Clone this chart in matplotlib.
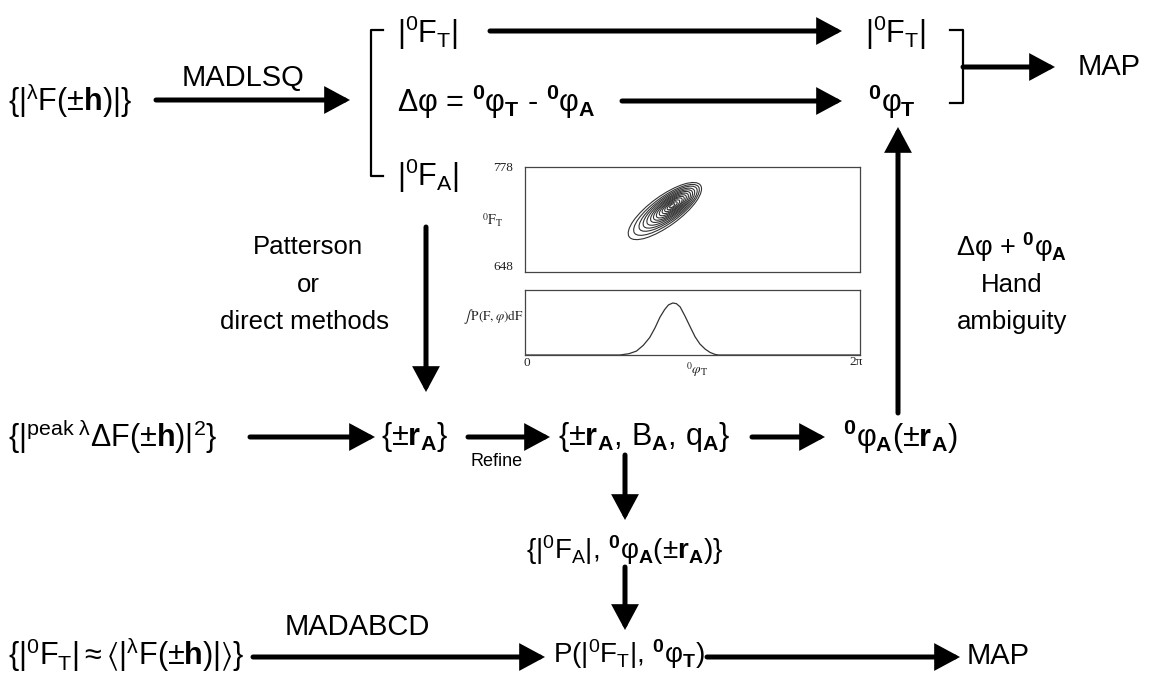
import numpy as np
import matplotlib
matplotlib.use('Agg')
import matplotlib.pyplot as plt
from matplotlib.patches import Ellipse
from matplotlib.transforms import ScaledTranslation

plt.rcParams['font.family'] = ['Liberation Sans', 'DejaVu Sans']
plt.rcParams['mathtext.fontset'] = 'custom'
plt.rcParams['mathtext.rm'] = 'Liberation Sans'
plt.rcParams['mathtext.it'] = 'Liberation Sans'
plt.rcParams['mathtext.bf'] = 'Liberation Sans:bold'
plt.rcParams['mathtext.fallback'] = 'stixsans'

W, H = 1149, 674

# inset data
phi_curve = [0.0, 1.60, 1.78, 1.95, 2.09, 2.22, 2.34, 2.44, 2.53, 2.62, 2.69, 2.77,
             2.84, 2.91, 3.00, 3.10, 3.19, 3.28, 3.38, 3.47, 3.56, 3.63, 6.283]
p_curve = [0.0, 0.0, 0.0, 0.02, 0.06, 0.15, 0.27, 0.42, 0.58, 0.70, 0.77, 0.80,
           0.79, 0.74, 0.60, 0.43, 0.28, 0.17, 0.09, 0.04, 0.01, 0.0, 0.0]
f_ticks = [648, 778]
contour_center = (2.76, 730)
contour_major = [88, 79, 70, 62, 55, 48, 42, 36, 30, 24, 18, 12, 6]
contour_minor = [30, 26, 23, 20.5, 18, 16, 14, 12, 10, 8.5, 6.5, 4.5, 2.5]
contour_shift = [-9, -7, -5, -4, -3, -2, -1.5, -1, -0.5, 0, 0, 0, 0]

fig = plt.figure(figsize=(W / 100, H / 100), dpi=100)
ax = fig.add_axes([0, 0, 1, 1])
ax.set_xlim(0, W)
ax.set_ylim(H, 0)
ax.axis('off')

BIG = 21
EQ = 22
MID = 18.5


def arrow(x0, y0, x1, y1):
    ax.annotate('', xy=(x1, y1), xytext=(x0, y0),
                arrowprops=dict(arrowstyle='-|>,head_length=0.65,head_width=0.35',
                                lw=3.6, color='black', shrinkA=0, shrinkB=0,
                                mutation_scale=20, joinstyle='miter'))


def label(x, y, s, size=EQ, ha='left', **kw):
    ax.text(x, y, s, fontsize=size, ha=ha, va='center', **kw)


# row 1
label(8, 100, r'$\{|{}^{λ}F(\pm\mathbf{h})|\}$')
label(243, 78, 'MADLSQ', size=BIG, ha='center')
arrow(156, 100, 350, 100)
ax.plot([383, 371, 371, 383], [30, 30, 176, 176], color='black', lw=1.6)
label(397, 33, r'$|{}^{0}F_{T}|$')
label(397, 102, r'Δφ = ${}^{\mathbf{0}}φ_{\mathbf{T}}$ - ${}^{\mathbf{0}}φ_{\mathbf{A}}$')
label(397, 176, r'$|{}^{0}F_{A}|$')
arrow(490, 31, 842, 31)
arrow(622, 101, 842, 101)
label(865, 33, r'$|{}^{0}F_{T}|$')
label(868, 102, r'${}^{\mathbf{0}}φ_{\mathbf{T}}$')
ax.plot([950, 963, 963, 950], [30, 30, 103, 103], color='black', lw=1.6)
arrow(963, 67, 1055, 67)
label(1078, 67, 'MAP', size=BIG)

# side notes
label(308, 247, 'Patterson', size=MID, ha='center')
label(308, 285, 'or', size=MID, ha='center')
label(305, 322, 'direct methods', size=MID, ha='center')
arrow(426, 227, 426, 392)
label(1012, 247, r'Δφ + ${}^{\mathbf{0}}φ_{\mathbf{A}}$', size=MID + 1, ha='center')
label(1012, 285, 'Hand', size=MID, ha='center')
label(1012, 322, 'ambiguity', size=MID, ha='center')
arrow(898, 413, 898, 127)

# row 2
label(8, 437, r'$\{|{}^{\mathrm{peak}\ λ}ΔF(\pm\mathbf{h})|^{2}\}$')
arrow(250, 437, 375, 437)
label(381, 437, r'$\{\pm\mathbf{r}_{\mathbf{A}}\}$')
arrow(468, 437, 550, 437)
label(497, 462, 'Refine', size=13, ha='center')
label(558, 437, r'$\{\pm\mathbf{r}_{\mathbf{A}},\,B_{\mathbf{A}},\,q_{\mathbf{A}}\}$')
arrow(752, 437, 825, 437)
label(843, 437, r'${}^{\mathbf{0}}φ_{\mathbf{A}}(\pm\mathbf{r}_{\mathbf{A}})$')
arrow(625, 455, 625, 520)
label(625, 550, r'$\{|{}^{0}F_{A}|,\,{}^{\mathbf{0}}φ_{\mathbf{A}}(\pm\mathbf{r}_{\mathbf{A}})\}$',
      size=20, ha='center')
arrow(625, 567, 625, 630)

# row 3
label(8, 654, r'$\{|{}^{0}F_{T}|\approx\langle|{}^{λ}F(\pm\mathbf{h})|\rangle\}$')
label(357, 627, 'MADABCD', size=BIG, ha='center')
arrow(253, 657, 545, 657)
label(553, 654, r'$P(|{}^{0}F_{T}|,\,{}^{\mathbf{0}}φ_{\mathbf{T}})$', size=20)
arrow(707, 657, 960, 657)
label(967, 656, 'MAP', size=BIG)

# inset: joint distribution and its marginal
frame = '#444444'
ax_top = fig.add_axes([525 / W, 1 - 272 / H, 335 / W, 105 / H])
ax_bot = fig.add_axes([525 / W, 1 - 355 / H, 335 / W, 65 / H])
for a in (ax_top, ax_bot):
    a.set_xticks([])
    a.set_yticks([])
    a.set_xlim(0, 2 * np.pi)
    for sp in a.spines.values():
        sp.set_color(frame)
        sp.set_linewidth(0.9)
ax_top.set_ylim(f_ticks[0], f_ticks[1])
ax_bot.set_ylim(0, 1)
ax_bot.plot(phi_curve, p_curve, color='#333333', lw=0.9)

ang = 36
for maj, mnr, sh in zip(contour_major, contour_minor, contour_shift):
    dx = sh * np.cos(np.radians(ang)) / 100
    dy = sh * np.sin(np.radians(ang)) / 100
    tr = fig.dpi_scale_trans + ScaledTranslation(contour_center[0], contour_center[1], ax_top.transData)
    e = Ellipse((dx, dy), maj / 100, mnr / 100, angle=ang, transform=tr,
                fill=False, edgecolor='#333333', lw=0.8)
    ax_top.add_patch(e)

serif = dict(family='Liberation Serif', color='#222222')
ax.text(513, 168, str(f_ticks[1]), fontsize=9.5, ha='right', va='center', **serif)
ax.text(513, 267, str(f_ticks[0]), fontsize=9.5, ha='right', va='center', **serif)
ax.text(503, 220, r'${}^{0}\mathrm{F}_{\mathrm{T}}$', fontsize=10, ha='right', va='center',
        math_fontfamily='stix', color='#222222')
ax.text(523, 316, r'$\int\,\mathrm{P(F,}\varphi\mathrm{)dF}$', fontsize=9.5, ha='right', va='center',
        math_fontfamily='stix', color='#222222')
ax.text(527, 363, '0', fontsize=9.5, ha='center', va='center', **serif)
ax.text(697, 370, r'${}^{0}\varphi_{\mathrm{T}}$', fontsize=10, ha='center', va='center',
        math_fontfamily='stix', color='#222222')
ax.text(856, 362, '2π', fontsize=9.5, ha='center', va='center', **serif)

fig.savefig('out.png', dpi=100)
